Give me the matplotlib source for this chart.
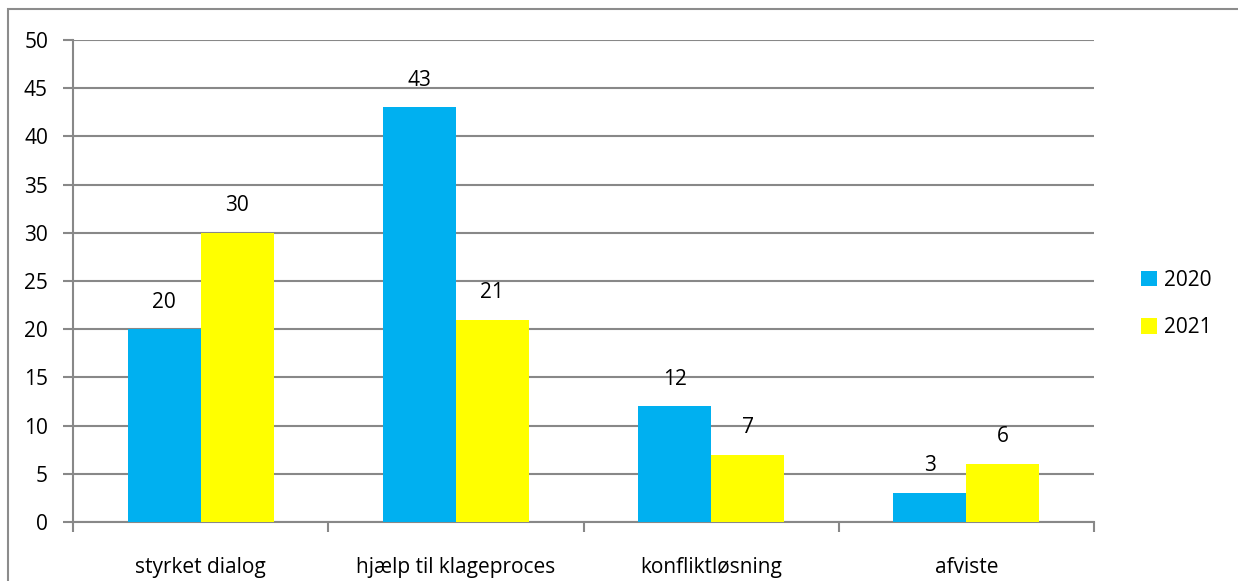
import numpy as np
import matplotlib.pyplot as plt
from matplotlib.patches import Rectangle

categories = ["styrket dialog", "hjælp til klageproces", "konfliktløsning", "afviste"]
values_2020 = [20, 43, 12, 3]
values_2021 = [30, 21, 7, 6]
series_names = ["2020", "2021"]

blue = "#00B0F0"
yellow = "#FFFF00"
grid_gray = "#888888"
fs = 15

plt.rcParams['font.family'] = ['Open Sans', 'DejaVu Sans']

fig = plt.figure(figsize=(12.38, 5.81), dpi=100)
ax = fig.add_axes([73 / 1238, 1 - 522 / 581, (1094 - 73) / 1238, (522 - 40) / 581])

# outer chart frame (only top/left edges fall inside the canvas)
fig.patches.append(Rectangle((8 / 1238, -0.1), 1.2, 1 - 9 / 581 + 0.1,
                             transform=fig.transFigure, fill=False,
                             edgecolor="#8c8c8c", linewidth=1.5, zorder=0))

x = np.arange(len(categories))
w = 73 / 255.25
b1 = ax.bar(x - w / 2, values_2020, w, color=blue, label=series_names[0], zorder=3)
b2 = ax.bar(x + w / 2, values_2021, w, color=yellow, label=series_names[1], zorder=3)

for bars, vals in ((b1, values_2020), (b2, values_2021)):
    for rect, v in zip(bars, vals):
        ax.annotate(str(v), (rect.get_x() + rect.get_width() / 2, v),
                    xytext=(0, 12), textcoords="offset points",
                    ha="center", va="bottom", fontsize=fs)

ax.set_xlim(-0.5, len(categories) - 0.5)
ax.set_ylim(0, 50)
ax.set_yticks(range(0, 51, 5))
ax.yaxis.grid(True, color=grid_gray, linewidth=1.5, zorder=0)
ax.set_axisbelow(True)

for side in ("top", "right"):
    ax.spines[side].set_visible(False)
for side in ("left", "bottom"):
    ax.spines[side].set_color(grid_gray)
    ax.spines[side].set_linewidth(1.5)

ax.tick_params(axis="y", length=7, width=1.5, color=grid_gray, labelsize=fs, pad=11)
# category ticks sit on the boundaries between groups
ax.set_xticks(np.arange(-0.5, len(categories), 1.0))
ax.set_xticklabels([])
ax.set_xticks(x, minor=True)
ax.set_xticklabels(categories, minor=True)
ax.tick_params(axis="x", which="major", length=7, width=1.5, color=grid_gray, direction="out")
ax.tick_params(axis="x", which="minor", length=0, labelsize=fs, pad=25)

ax.legend(loc="center left", bbox_to_anchor=(1.028, 0.452), frameon=False,
          fontsize=fs, handlelength=0.75, handleheight=0.75, handletextpad=0.35,
          labelspacing=1.25)

fig.savefig("out.png", dpi=100)
